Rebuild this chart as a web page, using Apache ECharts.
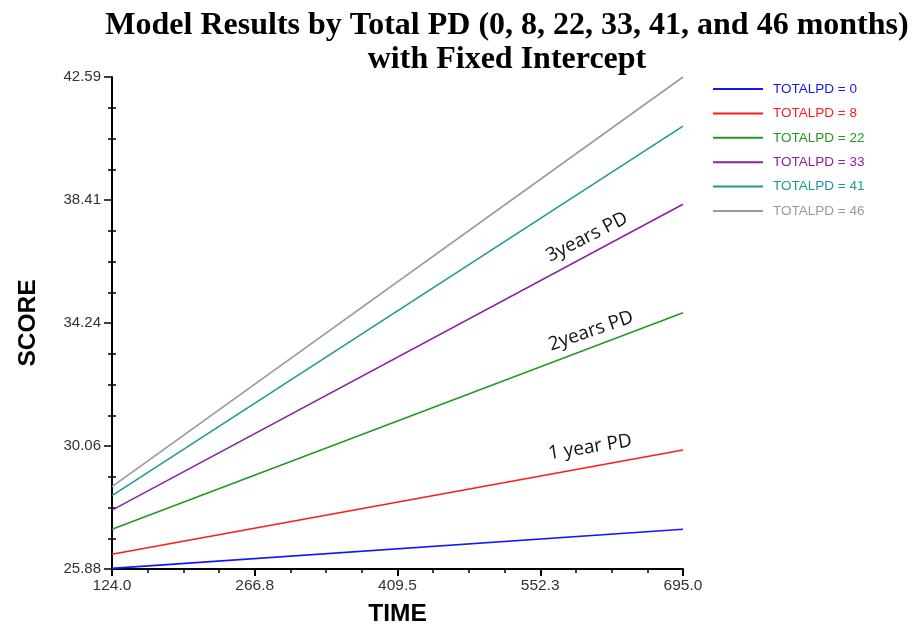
<!DOCTYPE html>
<html><head><meta charset="utf-8">
<script src="https://cdn.jsdelivr.net/npm/echarts@6/dist/echarts.min.js"></script>
<style>html,body{margin:0;padding:0;background:#fff}#c{width:917px;height:629px}</style>
</head><body><div id="c"></div>
<script>
const time = [124.0, 695.0];
const seriesNames = ['TOTALPD = 0','TOTALPD = 8','TOTALPD = 22','TOTALPD = 33','TOTALPD = 41','TOTALPD = 46'];
const pd0  = [25.90, 27.23];
const pd8  = [26.38, 29.92];
const pd22 = [27.23, 34.58];
const pd33 = [27.88, 38.27];
const pd41 = [28.37, 40.92];
const pd46 = [28.68, 42.59];
const xTickLabels = ['124.0','266.8','409.5','552.3','695.0'];
const yTickLabels = ['25.88','30.06','34.24','38.41','42.59'];
const annotations = [
  {text:'1 year PD', t:602, v:30.01, rot:9, series:1},
  {text:'2years PD', t:603, v:33.96, rot:19, series:2},
  {text:'3years PD', t:599, v:37.15, rot:27, series:3}
];
const colors = ['#1414ff','#ff1a1a','#229a22','#8a239c','#1f9898','#9a9a9a'];

const x0 = time[0], x1 = time[time.length-1];
const y0 = parseFloat(yTickLabels[0]), y1 = parseFloat(yTickLabels[yTickLabels.length-1]);
const xInt = (x1-x0)/(xTickLabels.length-1);
const yInt = (y1-y0)/(yTickLabels.length-1);
const all = [pd0,pd8,pd22,pd33,pd41,pd46];

const series = all.map((vals,i)=>{
  const s = {
    name: seriesNames[i], type:'line', symbol:'none', silent:true,
    data: vals.map((v,j)=>[time[j]-x0, v-y0]),
    lineStyle:{color:colors[i], width:1.6}, itemStyle:{color:colors[i]}
  };
  const ann = annotations.filter(a=>a.series===i);
  if (ann.length){
    s.markPoint = {symbol:'circle', symbolSize:0, silent:true, data: ann.map(a=>({
      coord:[a.t-x0, a.v-y0],
      label:{show:true, formatter:a.text, rotate:a.rot, color:'#111', fontSize:19,
        fontFamily:'Open Sans', position:'inside', align:'center', verticalAlign:'middle'}
    }))};
  }
  return s;
});

const nameFont = {fontFamily:'Liberation Sans', fontWeight:'bold', fontSize:24.5, color:'#000'};
const chart = echarts.init(document.getElementById('c'));
chart.setOption({
  animation:false,
  title:{text:'Model Results by Total PD (0, 8, 22, 33, 41, and 46 months)\nwith Fixed Intercept',
    left:502, top:4, textAlign:'center',
    textStyle:{fontFamily:'Liberation Serif', fontWeight:'bold', fontSize:32, lineHeight:34, color:'#000'}},
  legend:{orient:'vertical', left:708, top:77, itemWidth:50, itemHeight:2, itemGap:10.4, icon:'rect',
    textStyle:{fontFamily:'Liberation Sans', fontSize:13.5, lineHeight:14, padding:[0,0,0,5]},
    data: seriesNames.map((n,i)=>({name:n, textStyle:{color:colors[i]}}))},
  grid:{left:112, right:234, top:77, bottom:60, containLabel:false, outerBoundsMode:'none'},
  xAxis:{type:'value', min:0, max:x1-x0, interval:xInt,
    name:'TIME', nameLocation:'middle', nameGap:32.5, nameTextStyle:nameFont,
    axisLine:{lineStyle:{color:'#000', width:2}},
    axisTick:{show:true, length:7, lineStyle:{color:'#000', width:2}},
    minorTick:{show:true, splitNumber:4, length:4, lineStyle:{color:'#000', width:1.5}},
    splitLine:{show:false},
    axisLabel:{color:'#333', fontFamily:'Liberation Sans', fontSize:15.5, margin:9,
      formatter:(v)=>xTickLabels[Math.round(v/xInt)]}},
  yAxis:[{type:'value', min:0, max:y1-y0, interval:yInt,
    name:'SCORE', nameLocation:'middle', nameGap:71.75, nameRotate:90, nameTextStyle:nameFont,
    axisLine:{lineStyle:{color:'#000', width:2}},
    axisTick:{show:true, length:8, lineStyle:{color:'#000', width:1.5}},
    minorTick:{show:true, splitNumber:4, length:4, lineStyle:{color:'#000', width:1.5}},
    splitLine:{show:false},
    axisLabel:{color:'#333', fontFamily:'Liberation Sans', fontSize:15, margin:11,
      formatter:(v)=>yTickLabels[Math.round(v/yInt)]}},
   {type:'value', min:0, max:y1-y0, interval:yInt, position:'left',
    axisLine:{show:false}, axisLabel:{show:false}, splitLine:{show:false},
    axisTick:{show:false, inside:true},
    minorTick:{show:true, splitNumber:4, length:4, lineStyle:{color:'#000', width:1.5}}}],
  series: series
});
</script></body></html>
